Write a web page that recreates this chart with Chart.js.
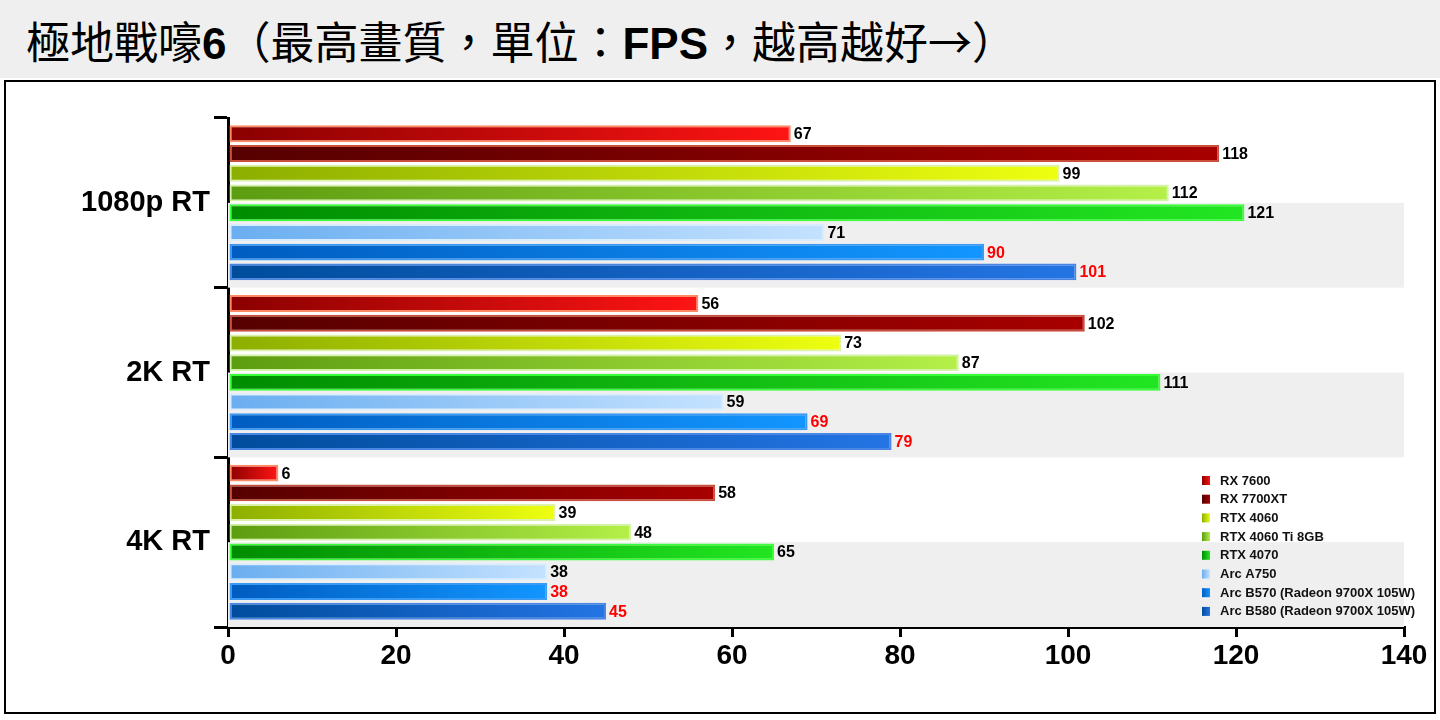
<!DOCTYPE html>
<html><head><meta charset="utf-8">
<script src="https://cdn.jsdelivr.net/npm/chart.js@4"></script>
<style>
body{margin:0;width:1440px;height:720px;background:#fff;position:relative;overflow:hidden;font-family:"Liberation Sans",Arial,sans-serif}
#title{position:absolute;left:0;top:0;width:1440px;height:78px;background:#efefef;font-family:"Noto Sans CJK TC";font-size:44px;line-height:80px;padding-left:26px;box-sizing:border-box;color:#000}
#title b{font-family:"Liberation Sans",Arial;font-weight:bold}
#box{position:absolute;left:4px;top:80px;width:1428px;height:630px;border:2px solid #000;background:#fff}
</style></head><body>
<div id="title">極地戰嚎<b>6</b>（最高畫質，單位：<b>FPS</b>，越高越好→）</div>
<div id="box"><canvas id="c"></canvas></div>
<script>
const categories=["1080p RT","2K RT","4K RT"];
const seriesNames=["RX 7600","RX 7700XT","RTX 4060","RTX 4060 Ti 8GB","RTX 4070","Arc A750","Arc B570 (Radeon 9700X 105W)","Arc B580 (Radeon 9700X 105W)"];
const rx7600=[67,56,6];
const rx7700xt=[118,102,58];
const rtx4060=[99,73,39];
const rtx4060ti=[112,87,48];
const rtx4070=[121,111,65];
const arcA750=[71,59,38];
const arcB570=[90,69,38];
const arcB580=[101,79,45];
const xTicks=[0,20,40,60,80,100,120,140];
const values=[rx7600,rx7700xt,rtx4060,rtx4060ti,rtx4070,arcA750,arcB570,arcB580];
const cols=[["#8a0000","#ff1414","#ff8a66"],["#560000","#a80000","#c8503c"],["#8cae00","#eeff10","#dcf2a8"],["#5c9c10","#b4f048","#d4f2a8"],["#008c00","#22e622","#38ff38"],["#6aaef0","#c4e2ff","#d8eeff"],["#005cc0","#1296ff","#3a9af4"],["#004c9c","#2474e4","#4a86e4"]];
const labelRed=[false,false,false,false,false,false,true,true];
function grad(ctx,i){const ch=ctx.chart;const ca=ch.chartArea;if(!ca||!ch.scales.x)return cols[i][1];
 const x0=ch.scales.x.getPixelForValue(0);const v=ctx.raw||1;const x1=ch.scales.x.getPixelForValue(v);
 const g=ch.ctx.createLinearGradient(x0,0,Math.max(x1,x0+1),0);g.addColorStop(0,cols[i][0]);g.addColorStop(1,cols[i][1]);return g;}
const datasets=values.map((d,i)=>({label:seriesNames[i],data:d,backgroundColor:ctx=>grad(ctx,i),borderColor:cols[i][2],borderWidth:2,borderSkipped:false,barPercentage:0.86,categoryPercentage:0.93}));
const extras={id:'extras',
 beforeDatasetsDraw(ch){const c=ch.ctx,a=ch.chartArea,y=ch.scales.y;c.save();c.fillStyle='#efefef';
  const h=(a.bottom-a.top)/categories.length;
  for(let k=0;k<categories.length;k++){const cy=y.getPixelForValue(k);c.fillRect(a.left,cy,a.right-a.left,h/2);}c.restore();},
 afterDatasetsDraw(ch){const c=ch.ctx;c.save();c.font='bold 16px "Liberation Sans",Arial';c.textBaseline='middle';
  ch.data.datasets.forEach((ds,i)=>{ch.getDatasetMeta(i).data.forEach((b,j)=>{c.fillStyle=labelRed[i]?'#ff0000':'#000';c.fillText(ds.data[j],b.x+3,b.y+1);});});
  const lx=1196,ly=398;c.font='bold 13px "Liberation Sans",Arial';
  seriesNames.forEach((n,i)=>{const yy=ly+i*18.7;const g=c.createLinearGradient(lx,0,lx+8,0);g.addColorStop(0,cols[i][0]);g.addColorStop(1,cols[i][1]);c.fillStyle=g;c.fillRect(lx,yy-4,8,9);c.fillStyle='#111';c.fillText(n,lx+18,yy+1);});
  c.restore();}};
new Chart(document.getElementById('c'),{type:'bar',data:{labels:categories,datasets},
 options:{indexAxis:'y',responsive:true,maintainAspectRatio:false,animation:false,
  layout:{padding:{top:36,right:30,bottom:0,left:0}},
  plugins:{legend:{display:false},tooltip:{enabled:false}},
  scales:{
   x:{min:0,max:140,afterBuildTicks(s){s.ticks=xTicks.map(v=>({value:v}));},
      grid:{display:true,drawOnChartArea:false,drawTicks:true,tickLength:10,color:'#000',lineWidth:3},
      border:{display:true,color:'#000',width:3},
      ticks:{color:'#000',font:{size:28,weight:'bold',family:'"Liberation Sans",Arial'},padding:2},
      afterFit(s){s.height=85;}},
   y:{offset:true,grid:{offset:true,drawOnChartArea:false,tickLength:14,color:'#000',lineWidth:3},
      border:{display:true,color:'#000',width:3},
      ticks:{color:'#000',font:{size:29,weight:'bold',family:'"Liberation Sans",Arial'},padding:4},
      afterFit(s){s.width=222;}}}},
 plugins:[extras]});
</script></body></html>
